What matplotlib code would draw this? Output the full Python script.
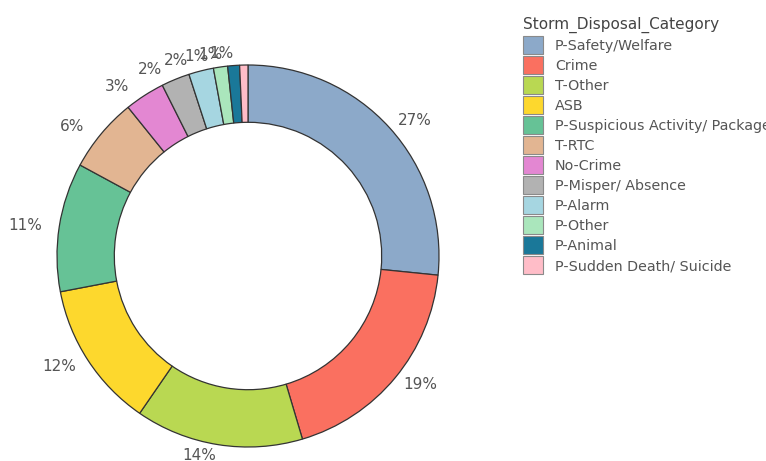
import matplotlib
matplotlib.use("Agg")
import numpy as np
import matplotlib.pyplot as plt
from matplotlib.patches import Rectangle

categories = [
    "P-Safety/Welfare", "Crime", "T-Other", "ASB",
    "P-Suspicious Activity/ Package", "T-RTC", "No-Crime",
    "P-Misper/ Absence", "P-Alarm", "P-Other", "P-Animal",
    "P-Sudden Death/ Suicide",
]
shares = [26.6, 18.8, 14.2, 12.4, 10.9, 6.3, 3.4, 2.4, 2.1, 1.2, 1.0, 0.7]
colors = [
    "#8CA9C9", "#FA7060", "#B9D852", "#FDD82D", "#66C296", "#E2B592",
    "#E387D2", "#B2B2B2", "#A6D6E1", "#AAE6BC", "#1A7899", "#FFBDC8",
]
legend_title = "Storm_Disposal_Category"

W, H = 766, 461
fig = plt.figure(figsize=(W / 100, H / 100), dpi=100)

cx, cy, r = 248, 256, 191
ax = fig.add_axes([(cx - r) / W, (H - cy - r) / H, 2 * r / W, 2 * r / H])
wedges, _ = ax.pie(
    shares,
    colors=colors,
    startangle=90,
    counterclock=False,
    radius=1.0,
    wedgeprops=dict(width=0.3, edgecolor="#333333", linewidth=0.9),
)

# percentage labels just outside the ring, anchored away from the centre
total = sum(shares)
label_r = 1.058
for w, v in zip(wedges, shares):
    mid = np.deg2rad((w.theta1 + w.theta2) / 2)
    x, y = label_r * np.cos(mid), label_r * np.sin(mid)
    if x >= 0:
        ha, dx = "left", 0.0
    else:
        ha, dx = "right", -(5 + 5 * np.sin(mid)) / r
    ax.text(x + dx, y, f"{100 * v / total:.0f}%", ha=ha, va="center",
            color="#555555", fontsize=11)

ax.set_xlim(-1, 1)
ax.set_ylim(-1, 1)
ax.set_aspect("equal")
ax.axis("off")

# legend: title, then one swatch + label per category (pixel layout)
def fx(px):
    return px / W

def fy(py):
    return 1 - py / H

fig.text(fx(523), fy(29), legend_title, ha="left", va="baseline",
         fontsize=11, color="#444444")
sw_x, sw_w, sw_h, top0, pitch = 522.5, 20, 18, 36, 20
for i, (name, c) in enumerate(zip(categories, colors)):
    top = top0 + i * pitch
    fig.patches.append(Rectangle((fx(sw_x), fy(top + sw_h)), sw_w / W, sw_h / H,
                                 transform=fig.transFigure, facecolor=c,
                                 edgecolor="#8a8a8a", linewidth=0.8))
    fig.text(fx(555), fy(top + sw_h / 2 + 5), name, ha="left", va="baseline",
             fontsize=10.3, color="#555555")

fig.savefig("out.png", dpi=100)
